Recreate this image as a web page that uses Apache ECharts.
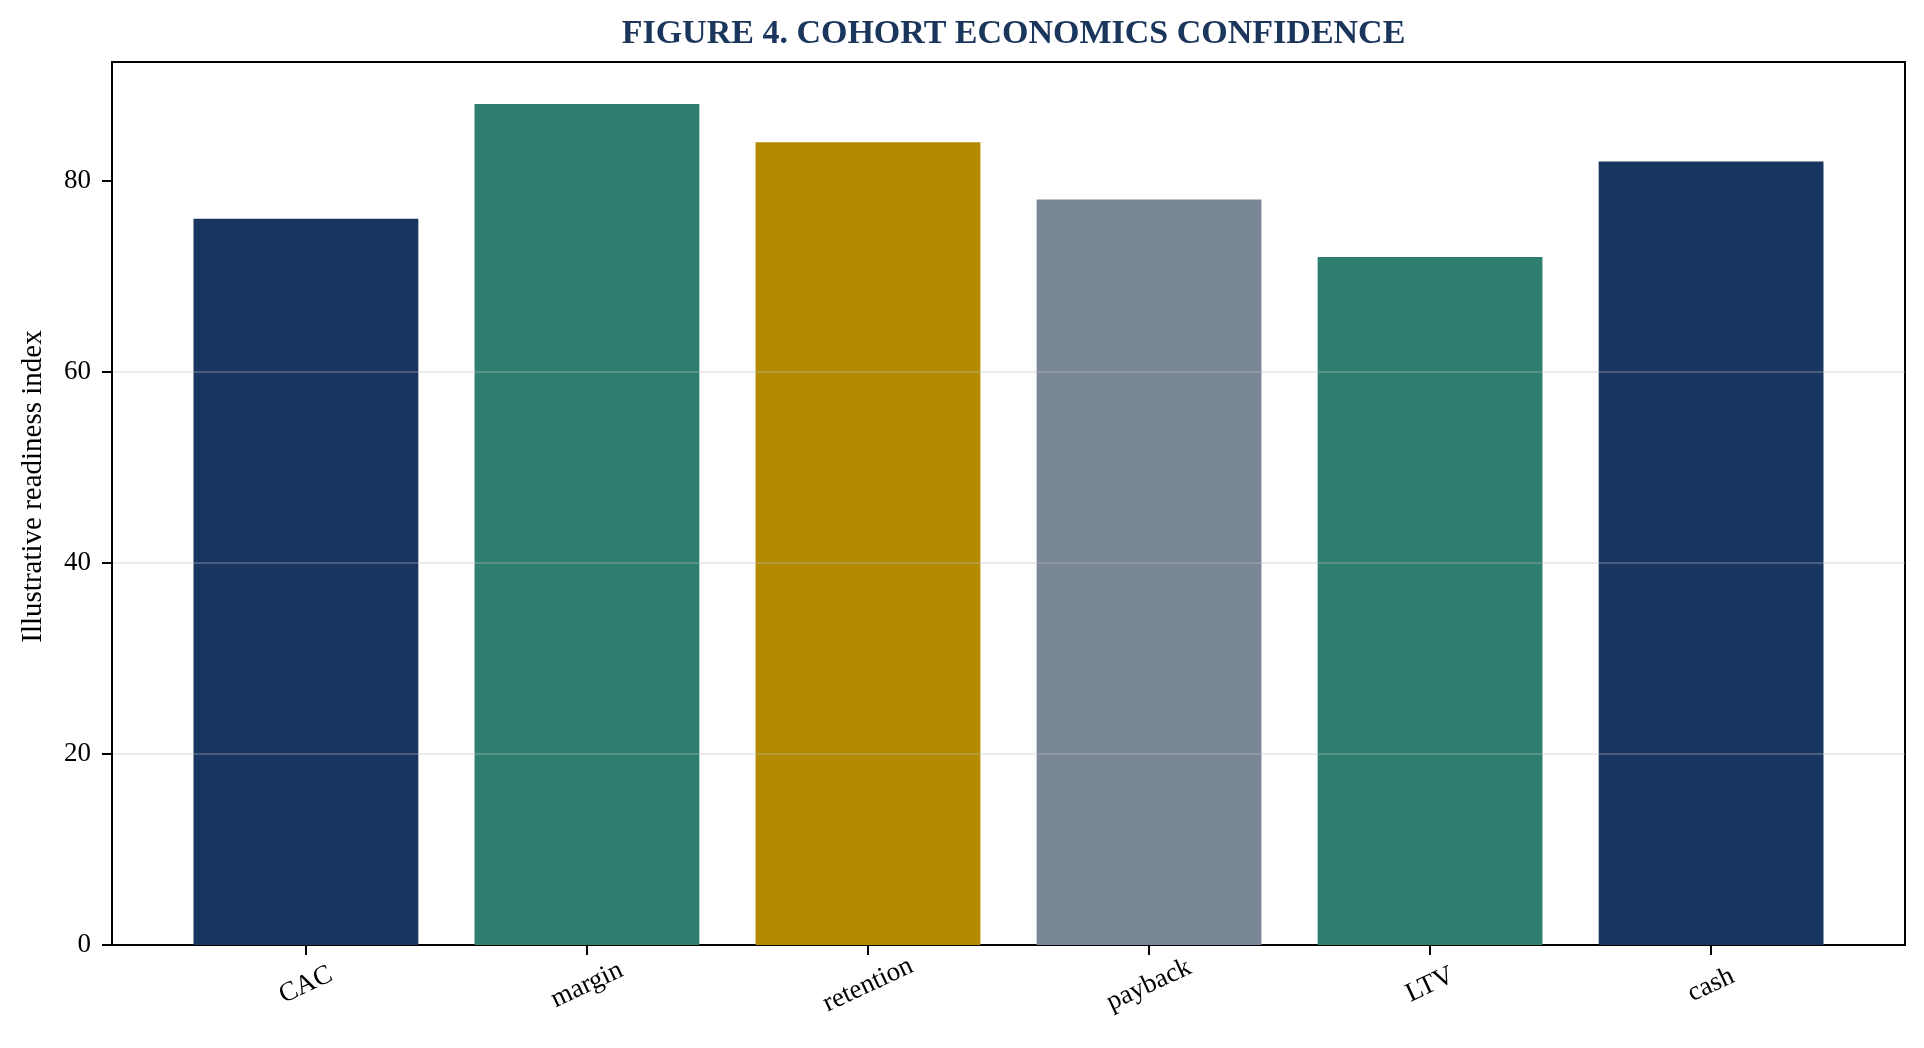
<!DOCTYPE html>
<html style="height: 100%">
<head>
    <meta charset="utf-8">
    <title>Cohort economics confidence</title>
    <script src="https://cdn.jsdelivr.net/npm/echarts@6/dist/echarts.min.js"></script>
</head>
<body style="height: 100%; margin: 0; background: #fff">
    <div id="container" style="width: 1924px; height: 1048px"></div>
    <script type="text/javascript">
        // chart values
        const categories = ['CAC', 'margin', 'retention', 'payback', 'LTV', 'cash'];
        const scores = [76, 88, 84, 78, 72, 82];
        const barColors = ['#183660', '#2e7f6f', '#b38a00', '#7a8797', '#2e7f6f', '#183660'];
        const yTicks = [0, 20, 40, 60, 80];

        const serif = "'Liberation Serif', 'Times New Roman', serif";
        const positions = categories.map(function (c, i) { return i; });

        // matplotlib-like limits: bars are 0.8 wide, 5% margin each side
        const span = (categories.length - 1) + 0.8;
        const xMin = -0.4 - span * 0.05;
        const xMax = (categories.length - 1) + 0.4 + span * 0.05;
        const yMax = Math.max.apply(null, scores) * 1.05;

        const W = 1924;
        const gridLeft = 112, gridRight = 19;
        // title is centred over the plot area, not the page
        const titleX = gridLeft + (W - gridLeft - gridRight) / 2;

        let chart = echarts.init(document.getElementById('container'));
        chart.setOption({
            backgroundColor: '#ffffff',
            animation: false,
            title: {
                text: 'FIGURE 4. COHORT ECONOMICS CONFIDENCE',
                left: titleX,
                textAlign: 'center',
                top: 12,
                textStyle: {
                    fontFamily: serif,
                    fontSize: 34,
                    fontWeight: 'bold',
                    color: '#1b365d'
                }
            },
            grid: {
                left: gridLeft,
                right: gridRight,
                top: 62,
                bottom: 103,
                show: true,
                borderColor: '#000',
                borderWidth: 2,
                backgroundColor: 'transparent'
            },
            xAxis: {
                type: 'value',
                min: xMin,
                max: xMax,
                axisLine: { show: true, onZero: false, lineStyle: { color: '#000', width: 2 } },
                axisTick: {
                    show: true,
                    length: 10,
                    customValues: positions,
                    lineStyle: { color: '#000', width: 2 }
                },
                axisLabel: {
                    customValues: positions,
                    formatter: function (v) { return categories[Math.round(v)]; },
                    rotate: 25,
                    align: 'center',
                    verticalAlign: 'middle',
                    margin: 40,
                    fontFamily: serif,
                    fontSize: 27,
                    color: '#000'
                },
                splitLine: { show: false }
            },
            yAxis: {
                type: 'value',
                min: 0,
                max: yMax,
                z: 3,
                name: 'Illustrative readiness index',
                nameLocation: 'middle',
                nameGap: 64,
                nameTextStyle: {
                    fontFamily: serif,
                    fontSize: 29,
                    color: '#000',
                    padding: [0, 0, 0, 34]
                },
                axisLine: { show: true, onZero: false, lineStyle: { color: '#000', width: 2 } },
                axisTick: {
                    show: true,
                    length: 10,
                    customValues: yTicks,
                    lineStyle: { color: '#000', width: 2 }
                },
                axisLabel: {
                    customValues: yTicks,
                    margin: 21,
                    fontFamily: serif,
                    fontSize: 27,
                    color: '#000'
                },
                splitLine: {
                    show: true,
                    showMinLine: false,
                    showMaxLine: false,
                    lineStyle: { color: 'rgba(190, 190, 190, 0.3)', width: 2 }
                }
            },
            series: [
                {
                    type: 'bar',
                    barWidth: '80%',
                    data: scores.map(function (v, i) {
                        return { value: [i, v], itemStyle: { color: barColors[i] } };
                    })
                }
            ]
        });
    </script>
</body>
</html>
